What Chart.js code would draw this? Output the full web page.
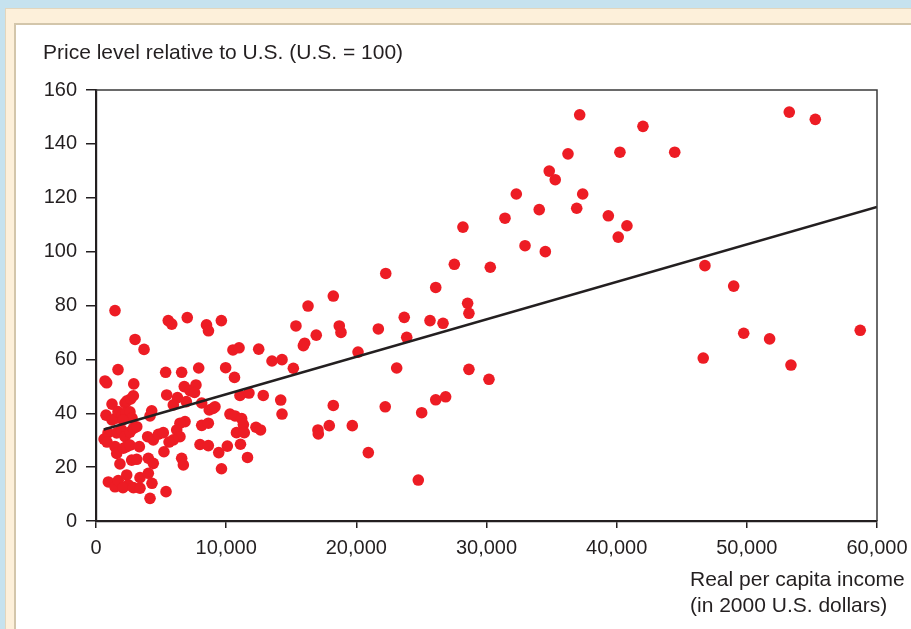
<!DOCTYPE html>
<html><head><meta charset="utf-8">
<script src="https://cdn.jsdelivr.net/npm/chart.js@4"></script>
<style>
html,body{margin:0;padding:0;width:911px;height:629px;overflow:hidden;background:#c6e2ee;}
#cream{position:absolute;left:5px;top:8px;right:0;bottom:0;background:#fdf0da;border-left:1px solid #e2d6bd;border-top:1px solid #e2d6bd;}
#white{position:absolute;left:14px;top:23px;right:0;bottom:0;background:#fff;border-left:2px solid #d3c6ab;border-top:2px solid #d3c6ab;}
#wrap{position:absolute;left:0;top:0;width:911px;height:629px;}
</style></head><body>
<div id="cream"></div><div id="white"></div>
<div id="wrap"><canvas id="c" width="911" height="629"></canvas></div>
<script>
// Real per capita income (2000 US$) and price level relative to U.S. (U.S. = 100)
const incomeX = [
37160,42020,36260,40250,44460,34820,35280,32290,37390,34050,36930,31420,39360,40790,40120,32960,34520,28190,27530,30290,
22260,26100,28550,28650,18230,16290,23680,25660,26660,18690,18820,21690,16920,15360,16030,15930,23870,20130,23100,28650,
30190,18230,22220,26100,26860,25020,17050,17080,17920,19690,20920,24760,
53260,55260,46780,48990,49760,51750,58710,46650,53390,
1460,5550,5820,7010,8490,8640,9630,3000,3690,10520,10990,12500,13520,14290,15160,
690,820,1690,2900,5350,6580,7890,9960,10640,5430,6260,5940,6940,6780,7220,7680,7570,8120,8700,8990,
11060,11750,12850,14190,14290,10290,10680,11190,11320,10790,11390,12290,12640,8120,8630,7990,8630,10090,11100,9430,
11640,9640,6840,6450,6200,6450,5940,5610,3970,4400,4790,5170,5220,6580,6710,1840,2740,3130,4020,4400,
950,1460,1710,2360,2480,2070,2870,3380,3380,4020,4300,5380,4150,9140,
2230,2380,2670,2870,1230,770,1230,1540,1690,2000,2300,2610,2770,2070,920,620,850,1590,1970,2230,
2610,2870,3130,1460,1590,2100,2360,2610,3330,4280,4150
];
const priceY = [
150.8,146.5,136.3,136.9,136.9,129.9,126.7,121.4,121.4,115.6,116.1,112.4,113.3,109.6,105.4,102.2,100.0,109.1,95.3,94.2,
91.9,86.7,80.8,77.1,83.5,79.8,75.6,74.4,73.4,72.4,70.0,71.3,69.0,72.4,66.0,65.1,68.2,62.7,56.8,56.3,
52.6,42.9,42.4,45.0,46.1,40.2,33.8,32.3,35.4,35.4,25.4,15.2,
151.8,149.1,94.8,87.2,69.7,67.6,70.8,60.5,57.9,
78.1,74.4,73.1,75.5,72.8,70.6,74.4,67.4,63.7,63.5,64.3,63.8,59.4,59.9,56.7,
52.0,51.3,56.2,50.9,55.2,55.2,56.8,56.9,53.3,46.8,45.8,43.1,44.3,49.9,48.4,50.5,47.7,43.8,41.2,41.8,
46.6,47.5,46.6,44.9,39.7,39.7,39.0,38.0,35.8,32.8,32.8,34.8,33.8,35.5,36.3,28.4,28.0,27.8,28.5,25.4,
23.6,19.4,36.9,36.3,33.8,31.3,30.1,29.3,31.3,30.1,32.2,32.8,25.7,23.3,20.8,21.2,22.6,22.9,23.3,21.4,
14.5,12.7,15.0,17.1,13.4,12.4,12.4,12.2,16.1,17.7,14.0,10.9,8.4,42.4,
43.8,44.6,45.3,46.5,43.4,39.3,37.5,38.2,40.6,39.3,40.2,40.5,38.2,37.5,32.7,30.4,29.3,32.7,33.8,31.3,
33.0,34.4,35.0,27.6,25.1,27.0,27.6,28.2,27.6,40.9,39.0
];
// Fitted trend line end points
const trendX = [600, 60000];
const trendY = [34.0, 116.6];
// Axis ticks
const xTicks = [0,10000,20000,30000,40000,50000,60000];
const yTicks = [0,20,40,60,80,100,120,140,160];
const yTitle = 'Price level relative to U.S. (U.S. = 100)';
const xTitle = ['Real per capita income', '(in 2000 U.S. dollars)'];

const INK = '#231f20';
const FONT = '"Liberation Sans", Arial, Helvetica, sans-serif';

const scatterPts = incomeX.map((x, i) => ({x: x, y: priceY[i]}));
const trendPts = trendX.map((x, i) => ({x: x, y: trendY[i]}));

const decor = {
  id: 'decor',
  afterDraw(chart) {
    const ctx = chart.ctx, a = chart.chartArea;
    ctx.save();
    ctx.strokeStyle = '#3a3a3a';
    ctx.lineWidth = 1.5;
    ctx.beginPath();
    ctx.moveTo(a.left, a.top);
    ctx.lineTo(a.right, a.top);
    ctx.lineTo(a.right, a.bottom);
    ctx.stroke();
    ctx.fillStyle = INK;
    ctx.font = '21px ' + FONT;
    ctx.textAlign = 'left';
    ctx.textBaseline = 'middle';
    ctx.fillText(yTitle, 43, 53);
    ctx.fillText(xTitle[0], 690, 580);
    ctx.fillText(xTitle[1], 690, 606);
    ctx.restore();
  }
};

new Chart(document.getElementById('c'), {
  data: {
    datasets: [
      {type: 'line', data: trendPts, borderColor: INK, borderWidth: 2.6, pointRadius: 0, fill: false, order: 0},
      {type: 'scatter', data: scatterPts, backgroundColor: '#ed1c24', borderWidth: 0, pointRadius: 5.8, pointHoverRadius: 5.8, order: 1}
    ]
  },
  options: {
    responsive: false,
    animation: false,
    layout: {padding: {left: 0, top: 90, right: 34, bottom: 0}},
    plugins: {legend: {display: false}, tooltip: {enabled: false}},
    scales: {
      x: {
        type: 'linear', min: 0, max: 60000,
        afterBuildTicks: s => { s.ticks = xTicks.map(v => ({value: v})); },
        afterFit: s => { s.height = 108; s.paddingLeft = 0; s.paddingRight = 0; },
        ticks: {
          autoSkip: false, maxRotation: 0, padding: 8, color: INK,
          font: {family: FONT, size: 20},
          callback: v => v.toLocaleString('en-US')
        },
        grid: {drawOnChartArea: false, drawTicks: true, tickLength: 7, color: INK, lineWidth: 1.5},
        border: {display: true, color: INK, width: 2.2}
      },
      y: {
        type: 'linear', min: 0, max: 160,
        afterBuildTicks: s => { s.ticks = yTicks.map(v => ({value: v})); },
        afterFit: s => { s.width = 96; s.paddingTop = 0; s.paddingBottom = 0; },
        ticks: {
          autoSkip: false, padding: 9, color: INK,
          font: {family: FONT, size: 20}
        },
        grid: {drawOnChartArea: false, drawTicks: true, tickLength: 10, color: INK, lineWidth: 1.5},
        border: {display: true, color: INK, width: 2.2}
      }
    }
  },
  plugins: [decor]
});
</script>
</body></html>
